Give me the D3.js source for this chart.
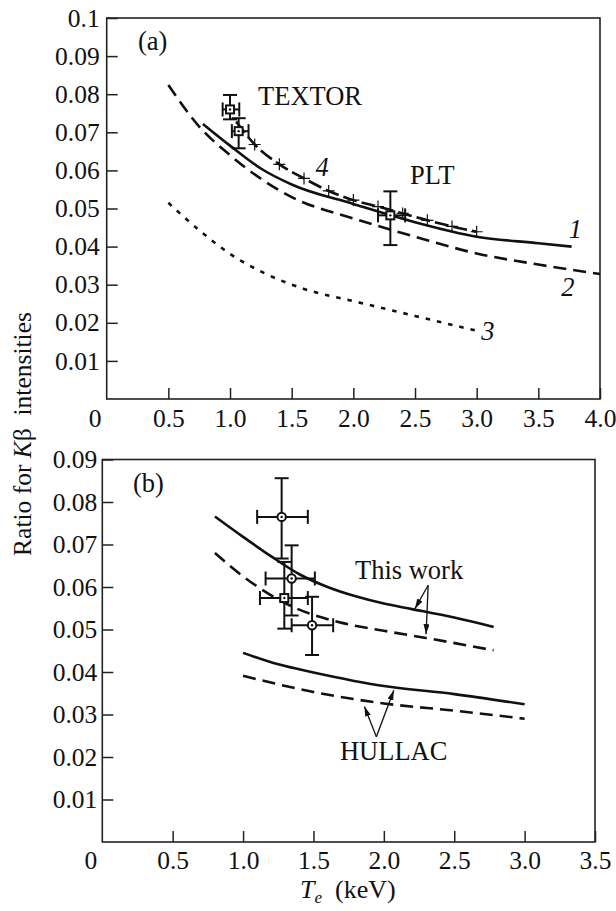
<!DOCTYPE html>
<html>
<head>
<meta charset="utf-8">
<script src="https://cdn.jsdelivr.net/npm/d3@7"></script>
<style>
  body { margin: 0; background: #fff; }
  svg text { font-family: "Liberation Serif", "Times New Roman", serif; fill: #111; }
</style>
</head>
<body>
<svg id="chart" width="616" height="911"></svg>
<script>
// ---- panel (a) data ----
const aTicksX = [0, 0.5, 1, 1.5, 2, 2.5, 3, 3.5, 4];
const aTicksY = [0.01, 0.02, 0.03, 0.04, 0.05, 0.06, 0.07, 0.08, 0.09, 0.1];

const curve1T = [0.78, 1.0, 1.25, 1.5, 2.0, 2.5, 3.0, 3.5, 3.77];
const curve1R = [0.0722, 0.0665, 0.0605, 0.0563, 0.0512, 0.0464, 0.0426, 0.0409, 0.0400];
const curve2T = [0.5, 0.75, 1.0, 1.5, 2.0, 2.5, 3.0, 3.5, 4.0];
const curve2R = [0.0824, 0.0715, 0.0640, 0.0530, 0.0474, 0.0426, 0.0382, 0.0353, 0.0328];
const curve3T = [0.5, 0.75, 1.0, 1.28, 1.6, 2.0, 2.5, 3.0];
const curve3R = [0.0515, 0.0443, 0.0381, 0.0330, 0.0289, 0.0257, 0.0218, 0.0179];
const curve4T = [1.05, 1.2, 1.4, 1.6, 1.8, 2.0, 2.2, 2.4, 2.6, 2.8, 3.0];
const curve4R = [0.0728, 0.0668, 0.0616, 0.0579, 0.0546, 0.0522, 0.0505, 0.0487, 0.0469, 0.0453, 0.0439];

// TEXTOR (2 points) and PLT (1 point)
const aPtT   = [1.0, 1.07, 2.3];
const aPtR   = [0.0760, 0.0703, 0.0482];
const aPtTlo = [0.94, 1.015, 2.2];
const aPtThi = [1.075, 1.15, 2.42];
const aPtRlo = [0.0734, 0.0658, 0.0404];
const aPtRhi = [0.0798, 0.0737, 0.0545];

// ---- panel (b) data ----
const bTicksX = [0, 0.5, 1, 1.5, 2, 2.5, 3, 3.5];
const bTicksY = [0.01, 0.02, 0.03, 0.04, 0.05, 0.06, 0.07, 0.08, 0.09];

const thisWorkSolidT = [0.8, 1.0, 1.2, 1.4, 1.6, 1.8, 2.0, 2.2, 2.5, 2.78];
const thisWorkSolidR = [0.0766, 0.0718, 0.0672, 0.0630, 0.0600, 0.0578, 0.0561, 0.0548, 0.0528, 0.0506];
const thisWorkDashT = [0.8, 1.0, 1.33, 1.71, 2.0, 2.3, 2.78];
const thisWorkDashR = [0.0680, 0.0625, 0.0557, 0.0515, 0.0497, 0.0480, 0.0451];
const hullacSolidT = [1.0, 1.25, 1.5, 2.0, 2.5, 3.0];
const hullacSolidR = [0.0445, 0.0418, 0.0399, 0.0367, 0.0348, 0.0324];
const hullacDashT = [1.0, 1.5, 2.0, 2.5, 3.0];
const hullacDashR = [0.0391, 0.0353, 0.0326, 0.0309, 0.0290];

const bPtT     = [1.274, 1.345, 1.293, 1.49];
const bPtR     = [0.0765, 0.0620, 0.0574, 0.0510];
const bPtTlo   = [1.10, 1.16, 1.12, 1.345];
const bPtThi   = [1.46, 1.51, 1.46, 1.64];
const bPtRlo   = [0.0667, 0.0533, 0.0502, 0.0440];
const bPtRhi   = [0.0856, 0.0698, 0.0659, 0.0577];
const bPtShape = ['circle', 'circle', 'square', 'circle'];

const svg = d3.select('#chart');

function zip(ts, rs){
    return ts.map((t, i) => [t, rs[i]]);
}

function makePanel(box, xMax, yMax, xTicks, yTicks, yFmt, labelPad){
    const x = d3.scaleLinear().domain([0, xMax]).range([box.left, box.right]);
    const y = d3.scaleLinear().domain([0, yMax]).range([box.bottom, box.top]);

    svg.append('g')
        .attr('transform', `translate(0,${box.bottom})`)
        .call(d3.axisBottom(x).tickValues(xTicks).tickSizeInner(-11).tickSizeOuter(0)
            .tickPadding(labelPad.x).tickFormat(d => d === 0 ? '0' : d.toFixed(1)))
        .call(g => g.select('.domain').remove())
        .call(g => g.selectAll('.tick line').attr('stroke', '#222').attr('stroke-width', 1.5))
        .call(g => g.selectAll('.tick').filter(d => d === 0).select('line').remove())
        .call(g => g.selectAll('.tick').filter(d => d === 0).select('text').attr('x', -12))
        .call(g => g.selectAll('text').style('font-size', '25.5px').attr('fill', '#111'));

    svg.append('g')
        .attr('transform', `translate(${box.left},0)`)
        .call(d3.axisLeft(y).tickValues(yTicks).tickSizeInner(-11).tickSizeOuter(0)
            .tickPadding(labelPad.y).tickFormat(yFmt))
        .call(g => g.select('.domain').remove())
        .call(g => g.selectAll('.tick line').attr('stroke', '#222').attr('stroke-width', 1.5))
        .call(g => g.selectAll('text').style('font-size', '25.5px').attr('fill', '#111'));

    svg.append('rect')
        .attr('x', box.left).attr('y', box.top)
        .attr('width', box.right - box.left).attr('height', box.bottom - box.top)
        .attr('fill', 'none').attr('stroke', '#222').attr('stroke-width', 1.6);

    return {x, y};
}

function drawCurve(sc, ts, rs, dash){
    const line = d3.line().x(d => sc.x(d[0])).y(d => sc.y(d[1])).curve(d3.curveMonotoneX);
    svg.append('path')
        .datum(zip(ts, rs))
        .attr('d', line)
        .attr('fill', 'none')
        .attr('stroke', '#111')
        .attr('stroke-width', 2.6)
        .attr('stroke-dasharray', dash || null);
}

function drawErrorPoints(sc, ts, rs, tlo, thi, rlo, rhi, shapes){
    const cap = 7;
    ts.forEach((t, i) => {
        const cx = sc.x(t), cy = sc.y(rs[i]);
        const g = svg.append('g').attr('stroke', '#111').attr('stroke-width', 2).attr('fill', 'none');
        g.append('line').attr('x1', sc.x(tlo[i])).attr('x2', sc.x(thi[i])).attr('y1', cy).attr('y2', cy);
        g.append('line').attr('x1', cx).attr('x2', cx).attr('y1', sc.y(rlo[i])).attr('y2', sc.y(rhi[i]));
        [tlo[i], thi[i]].forEach(v => g.append('line')
            .attr('x1', sc.x(v)).attr('x2', sc.x(v)).attr('y1', cy - cap).attr('y2', cy + cap));
        [rlo[i], rhi[i]].forEach(v => g.append('line')
            .attr('x1', cx - cap).attr('x2', cx + cap).attr('y1', sc.y(v)).attr('y2', sc.y(v)));
        if(shapes[i] === 'square'){
            g.append('rect').attr('x', cx - 4).attr('y', cy - 4).attr('width', 8).attr('height', 8)
                .attr('fill', '#fff');
        }else{
            g.append('circle').attr('cx', cx).attr('cy', cy).attr('r', 4.2).attr('fill', '#fff');
        }
        g.append('circle').attr('cx', cx).attr('cy', cy).attr('r', 1.2).attr('fill', '#111').attr('stroke', 'none');
    });
}

function label(sc, t, r, txt, opts){
    opts = opts || {};
    svg.append('text')
        .attr('x', sc.x(t)).attr('y', sc.y(r))
        .attr('text-anchor', opts.anchor || 'start')
        .style('font-size', '26.5px')
        .style('font-style', opts.italic ? 'italic' : 'normal')
        .text(txt);
}

// arrowhead
svg.append('defs').append('marker')
    .attr('id', 'arrow')
    .attr('viewBox', '0 0 10 6')
    .attr('refX', 10).attr('refY', 3)
    .attr('markerWidth', 10).attr('markerHeight', 6)
    .attr('markerUnits', 'userSpaceOnUse')
    .attr('orient', 'auto')
    .append('path').attr('d', 'M0,0 L10,3 L0,6 Z').attr('fill', '#111');

function arrows(sc, from, targets){
    targets.forEach(tg => {
        svg.append('line')
            .attr('x1', sc.x(from[0])).attr('y1', sc.y(from[1]))
            .attr('x2', sc.x(tg[0])).attr('y2', sc.y(tg[1]))
            .attr('stroke', '#111').attr('stroke-width', 1.3)
            .attr('marker-end', 'url(#arrow)');
    });
}

// ---------- panel (a) ----------
const sa = makePanel({left: 106.7, right: 600, top: 18, bottom: 399}, 4, 0.1, aTicksX, aTicksY,
    d => d === 0.1 ? '0.1' : d.toFixed(2), {x: 10, y: 7});

drawCurve(sa, curve2T, curve2R, '13,7');
drawCurve(sa, curve3T, curve3R, '4.5,7');
drawCurve(sa, curve1T, curve1R);
drawCurve(sa, curve4T, curve4R, '14,5');

svg.append('g').selectAll('path')
    .data(zip(curve4T, curve4R).slice(1))
    .enter().append('path')
    .attr('d', d => `M${sa.x(d[0]) - 6},${sa.y(d[1])}h12M${sa.x(d[0])},${sa.y(d[1]) - 6}v12`)
    .attr('stroke', '#111').attr('stroke-width', 1.2);

drawErrorPoints(sa, aPtT, aPtR, aPtTlo, aPtThi, aPtRlo, aPtRhi, ['square', 'square', 'square']);

label(sa, 0.254, 0.0916, '(a)');
label(sa, 1.227, 0.0772, 'TEXTOR');
label(sa, 2.46, 0.0564, 'PLT');
label(sa, 3.80, 0.0423, '1', {anchor: 'middle', italic: true});
label(sa, 3.74, 0.0270, '2', {anchor: 'middle', italic: true});
label(sa, 3.09, 0.0155, '3', {anchor: 'middle', italic: true});
label(sa, 1.746, 0.0585, '4', {anchor: 'middle', italic: true});

// ---------- panel (b) ----------
const sb = makePanel({left: 102.3, right: 595, top: 459.5, bottom: 842}, 3.5, 0.09, bTicksX, bTicksY,
    d => d.toFixed(2), {x: 8.5, y: 5});

drawCurve(sb, thisWorkSolidT, thisWorkSolidR);
drawCurve(sb, thisWorkDashT, thisWorkDashR, '13,7');
drawCurve(sb, hullacSolidT, hullacSolidR);
drawCurve(sb, hullacDashT, hullacDashR, '13,7');

drawErrorPoints(sb, bPtT, bPtR, bPtTlo, bPtThi, bPtRlo, bPtRhi, bPtShape);

label(sb, 0.218, 0.0823, '(b)');
label(sb, 1.795, 0.0620, 'This work');
label(sb, 1.688, 0.0193, 'HULLAC');

arrows(sb, [2.315, 0.0604], [[2.221, 0.0549], [2.30, 0.0489]]);
arrows(sb, [1.947, 0.02475], [[1.862, 0.0319], [2.071, 0.0357]]);

// ---------- axis titles ----------
const yTitle = svg.append('text')
    .attr('transform', 'translate(31,434) rotate(-90)')
    .attr('text-anchor', 'middle')
    .style('font-size', '25.5px');
yTitle.append('tspan').text('Ratio for ');
yTitle.append('tspan').style('font-style', 'italic').text('K');
yTitle.append('tspan').text('β\u00A0\u00A0intensities');

const xTitle = svg.append('text')
    .attr('x', 300).attr('y', 898)
    .style('font-size', '26px');
xTitle.append('tspan').style('font-style', 'italic').text('T');
xTitle.append('tspan').style('font-style', 'italic').style('font-size', '17px').attr('dy', 5).text('e');
xTitle.append('tspan').attr('dy', -5).text('\u00A0\u00A0(keV)');
</script>
</body>
</html>
